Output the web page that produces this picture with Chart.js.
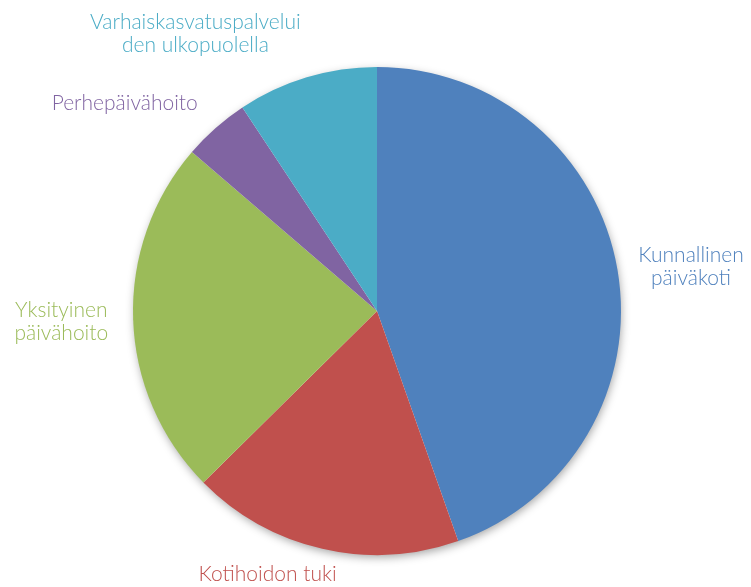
<!DOCTYPE html>
<html>
<head>
<meta charset="utf-8">
<script src="https://cdn.jsdelivr.net/npm/chart.js@4.4.1/dist/chart.umd.min.js"></script>
<style>
  body { margin: 0; background: #fff; }
</style>
</head>
<body>
<canvas id="pie_chart" width="751" height="587"></canvas>
<script>
// slice names (split into the lines the labels use)
const categories = [
    ['Kunnallinen', 'päiväkoti'],
    ['Kotihoidon tuki'],
    ['Yksityinen', 'päivähoito'],
    ['Perhepäivähoito'],
    ['Varhaiskasvatuspalvelui', 'den ulkopuolella']
];
const shares = [44.6, 18.0, 23.7, 4.4, 9.3];
const sliceColors = ['#4F81BD', '#C0504D', '#9BBB59', '#8064A2', '#4BACC6'];

const labelFont = '300 21px Lato, "Open Sans", sans-serif';
const lineHeight = 23;
const labelGap = 21;
// small hand tweaks so labels sit where the original put them
const labelNudge = [[0, 0], [-50, -7], [-4, 2], [-4, 3], [0, 0]];

// soft shadow behind the whole pie
const pieShadow = {
    id: 'pieShadow',
    beforeDatasetsDraw(chart) {
        const arc = chart.getDatasetMeta(0).data[0];
        if (!arc) return;
        const p = arc.getProps(['x', 'y', 'outerRadius'], true);
        const ctx = chart.ctx;
        ctx.save();
        ctx.shadowColor = 'rgba(0, 0, 0, 0.38)';
        ctx.shadowBlur = 10;
        ctx.shadowOffsetX = 1;
        ctx.shadowOffsetY = 3;
        ctx.fillStyle = '#ffffff';
        ctx.beginPath();
        ctx.arc(p.x, p.y, p.outerRadius - 1, 0, Math.PI * 2);
        ctx.fill();
        ctx.restore();
    }
};

// outside labels in slice colour
const outsideLabels = {
    id: 'outsideLabels',
    afterDraw(chart) {
        const ctx = chart.ctx;
        const meta = chart.getDatasetMeta(0);
        ctx.save();
        ctx.font = labelFont;
        ctx.textAlign = 'center';
        ctx.textBaseline = 'middle';
        meta.data.forEach((arc, i) => {
            const p = arc.getProps(['x', 'y', 'startAngle', 'endAngle', 'outerRadius'], true);
            const mid = (p.startAngle + p.endAngle) / 2;
            const dx = Math.cos(mid);
            const dy = Math.sin(mid);
            const ax = p.x + dx * (p.outerRadius + labelGap);
            const ay = p.y + dy * (p.outerRadius + labelGap);

            const lines = categories[i];
            const w = Math.max(...lines.map(l => ctx.measureText(l).width));
            const h = lines.length * lineHeight;

            let left, top;
            if (Math.abs(dx) > 0.9) {
                left = dx > 0 ? ax : ax - w;
                top = ay - h / 2;
            } else if (Math.abs(dy) > 0.97) {
                left = ax - w / 2;
                top = dy > 0 ? ay : ay - h;
            } else {
                left = dx > 0 ? ax : ax - w;
                top = dy > 0 ? ay : ay - h;
            }
            left += labelNudge[i][0];
            top += labelNudge[i][1];

            ctx.fillStyle = sliceColors[i];
            lines.forEach((line, j) => {
                ctx.fillText(line, left + w / 2, top + lineHeight * (j + 0.5));
            });
        });
        ctx.restore();
    }
};

const pieChart = new Chart(document.getElementById('pie_chart'), {
    type: 'pie',
    data: {
        labels: categories.map(c => c.join(' ')),
        datasets: [{
            data: shares,
            backgroundColor: sliceColors,
            borderWidth: 0
        }]
    },
    options: {
        responsive: false,
        animation: false,
        layout: {
            padding: { top: 67, bottom: 32, left: 133, right: 130 }
        },
        plugins: {
            legend: { display: false },
            tooltip: { enabled: false }
        }
    },
    plugins: [pieShadow, outsideLabels]
});
</script>
</body>
</html>
